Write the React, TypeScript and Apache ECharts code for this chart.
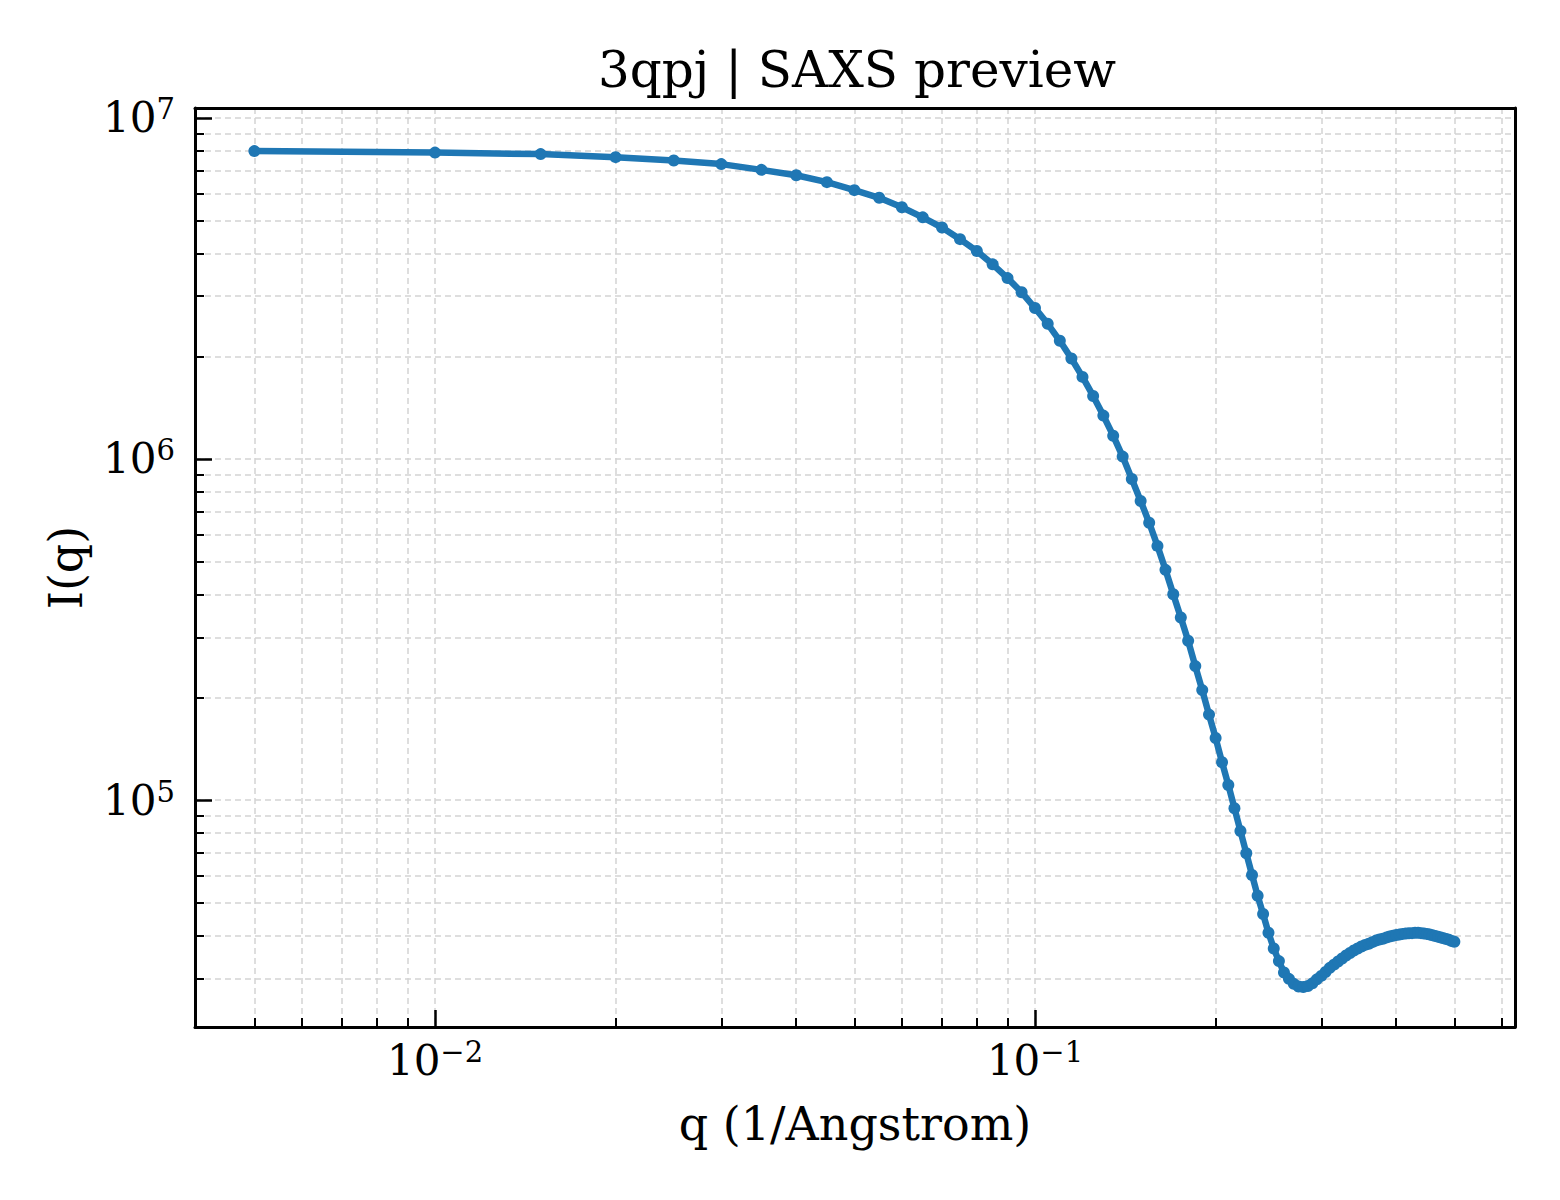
import { useEffect, useRef } from 'react'
import * as echarts from 'echarts'

// q values (1/Angstrom) and scattered intensity
const Q = [
  0.005, 0.010, 0.015, 0.020, 0.025, 0.030, 0.035, 0.040, 0.045, 0.050,
  0.055, 0.060, 0.065, 0.070, 0.075, 0.080, 0.085, 0.090, 0.095, 0.100,
  0.105, 0.110, 0.115, 0.120, 0.125, 0.130, 0.135, 0.140, 0.145, 0.150,
  0.155, 0.160, 0.165, 0.170, 0.175, 0.180, 0.185, 0.190, 0.195, 0.200,
  0.205, 0.210, 0.215, 0.220, 0.225, 0.230, 0.235, 0.240, 0.245, 0.250,
  0.255, 0.260, 0.265, 0.270, 0.275, 0.280, 0.285, 0.290, 0.295, 0.300,
  0.305, 0.310, 0.315, 0.320, 0.325, 0.330, 0.335, 0.340, 0.345, 0.350,
  0.355, 0.360, 0.365, 0.370, 0.375, 0.380, 0.385, 0.390, 0.395, 0.400,
  0.405, 0.410, 0.415, 0.420, 0.425, 0.430, 0.435, 0.440, 0.445, 0.450,
  0.455, 0.460, 0.465, 0.470, 0.475, 0.480, 0.485, 0.490, 0.495, 0.500
]

const INTENSITY = [
  7.99e6, 7.91e6, 7.83e6, 7.67e6, 7.50e6, 7.32e6, 7.04e6, 6.79e6, 6.48e6, 6.14e6,
  5.83e6, 5.47e6, 5.11e6, 4.77e6, 4.41e6, 4.07e6, 3.72e6, 3.39e6, 3.08e6, 2.77e6,
  2.49e6, 2.22e6, 1.97e6, 1.74e6, 1.53e6, 1.34e6, 1.17e6, 1.016e6, 8.73e5, 7.53e5,
  6.50e5, 5.56e5, 4.73e5, 4.01e5, 3.43e5, 2.93e5, 2.47e5, 2.10e5, 1.78e5, 1.52e5,
  1.29e5, 1.107e5, 9.46e4, 8.11e4, 6.98e4, 6.03e4, 5.24e4, 4.63e4, 4.08e4, 3.67e4,
  3.37e4, 3.12e4, 2.99e4, 2.89e4, 2.84e4, 2.83e4, 2.85e4, 2.90e4, 2.98e4, 3.05e4,
  3.13e4, 3.22e4, 3.29e4, 3.36e4, 3.43e4, 3.50e4, 3.56e4, 3.62e4, 3.67e4, 3.72e4,
  3.76e4, 3.79e4, 3.83e4, 3.87e4, 3.90e4, 3.92e4, 3.95e4, 3.98e4, 4.00e4, 4.02e4,
  4.03e4, 4.05e4, 4.06e4, 4.065e4, 4.07e4, 4.08e4, 4.08e4, 4.07e4, 4.06e4, 4.05e4,
  4.03e4, 4.01e4, 3.99e4, 3.97e4, 3.95e4, 3.93e4, 3.91e4, 3.89e4, 3.86e4, 3.84e4
]

const X_MAJOR_TICKS = [0.01, 0.1]
const X_MINOR_TICKS = [
  0.004, 0.005, 0.006, 0.007, 0.008, 0.009,
  0.02, 0.03, 0.04, 0.05, 0.06, 0.07, 0.08, 0.09,
  0.2, 0.3, 0.4, 0.5, 0.6
]
const Y_MAJOR_TICKS = [1e5, 1e6, 1e7]
const Y_MINOR_TICKS = [
  3e4, 4e4, 5e4, 6e4, 7e4, 8e4, 9e4,
  2e5, 3e5, 4e5, 5e5, 6e5, 7e5, 8e5, 9e5,
  2e6, 3e6, 4e6, 5e6, 6e6, 7e6, 8e6, 9e6
]

const X_MIN = 0.003981
const X_MAX = 0.631
const Y_MIN = 21600
const Y_MAX = 1.069e7

const FONT = 'DejaVu Serif'
const LINE_COLOR = '#1f77b4'
const GRID_LINE = { show: true, lineStyle: { color: '#d3d3d3', width: 1.5, type: [6, 4] as number[] } }

function powerLabel(value: number): string {
  const e = Math.log10(value)
  const k = Math.round(e)
  if (Math.abs(e - k) > 1e-6) return ''
  return `{b|10}{s|${k < 0 ? '\u2212' : ''}${Math.abs(k)}}`
}

const labelRich = {
  b: { fontFamily: FONT, fontSize: 42, lineHeight: 46, color: '#000' },
  s: { fontFamily: FONT, fontSize: 29, lineHeight: 29, verticalAlign: 'top' as const, color: '#000' }
}

export default function App() {
  const ref = useRef<HTMLDivElement>(null)

  useEffect(() => {
    if (!ref.current) return
    document.body.style.margin = '0'
    const chart = echarts.init(ref.current, null, { renderer: 'svg' })

    const majorTick = { show: true, inside: true, length: 17, lineStyle: { color: '#000', width: 2.5 } }
    const minorTick = { show: true, inside: true, length: 9, lineStyle: { color: '#000', width: 2 } }
    const nameStyle = { fontFamily: FONT, fontSize: 46, color: '#000' }
    // plain frame on all four sides, drawn above the dashed grid
    const frameLine = { show: true, lineStyle: { color: '#000', width: 3 } }

    const option: echarts.EChartsOption = {
      animation: false,
      backgroundColor: '#fff',
      title: {
        text: '3qpj | SAXS preview',
        left: 852,
        top: 40,
        textAlign: 'center',
        textStyle: { fontFamily: FONT, fontSize: 50, fontWeight: 'normal', color: '#000' }
      },
      grid: {
        left: 195,
        right: 45,
        top: 108,
        bottom: 173,
        show: false
      },
      xAxis: [
        {
          type: 'log',
          logBase: 10,
          min: X_MIN,
          max: X_MAX,
          position: 'bottom',
          axisLine: { show: false },
          axisTick: { ...majorTick, customValues: X_MAJOR_TICKS },
          axisLabel: { margin: 10, customValues: X_MAJOR_TICKS, formatter: powerLabel, rich: labelRich },
          splitLine: GRID_LINE,
          name: 'q (1/Angstrom)',
          nameLocation: 'middle',
          nameGap: 74,
          nameTextStyle: nameStyle
        },
        {
          type: 'log',
          logBase: 10,
          min: X_MIN,
          max: X_MAX,
          position: 'bottom',
          axisLine: { show: false },
          axisTick: { ...minorTick, customValues: X_MINOR_TICKS },
          axisLabel: { show: false },
          splitLine: GRID_LINE
        },
        {
          type: 'log',
          logBase: 10,
          min: X_MIN,
          max: X_MAX,
          position: 'bottom',
          z: 10,
          axisLine: frameLine,
          axisTick: { show: false },
          axisLabel: { show: false },
          splitLine: { show: false }
        },
        {
          type: 'log',
          logBase: 10,
          min: X_MIN,
          max: X_MAX,
          position: 'top',
          z: 10,
          axisLine: frameLine,
          axisTick: { show: false },
          axisLabel: { show: false },
          splitLine: { show: false }
        }
      ],
      yAxis: [
        {
          type: 'log',
          logBase: 10,
          min: Y_MIN,
          max: Y_MAX,
          position: 'left',
          axisLine: { show: false },
          axisTick: { ...majorTick, customValues: Y_MAJOR_TICKS },
          axisLabel: { margin: 20, customValues: Y_MAJOR_TICKS, formatter: powerLabel, rich: labelRich },
          splitLine: GRID_LINE,
          name: 'I(q)',
          nameLocation: 'middle',
          nameGap: 106,
          nameTextStyle: nameStyle
        },
        {
          type: 'log',
          logBase: 10,
          min: Y_MIN,
          max: Y_MAX,
          position: 'left',
          axisLine: { show: false },
          axisTick: { ...minorTick, customValues: Y_MINOR_TICKS },
          axisLabel: { show: false },
          splitLine: GRID_LINE
        },
        {
          type: 'log',
          logBase: 10,
          min: Y_MIN,
          max: Y_MAX,
          position: 'left',
          z: 10,
          axisLine: frameLine,
          axisTick: { show: false },
          axisLabel: { show: false },
          splitLine: { show: false }
        },
        {
          type: 'log',
          logBase: 10,
          min: Y_MIN,
          max: Y_MAX,
          position: 'right',
          z: 10,
          axisLine: frameLine,
          axisTick: { show: false },
          axisLabel: { show: false },
          splitLine: { show: false }
        }
      ],
      series: [
        {
          type: 'line',
          xAxisIndex: 0,
          yAxisIndex: 0,
          data: Q.map((q, i) => [q, INTENSITY[i]]),
          symbol: 'circle',
          symbolSize: 12,
          showSymbol: true,
          lineStyle: { color: LINE_COLOR, width: 6.5 },
          itemStyle: { color: LINE_COLOR },
          z: 5
        }
      ]
    }

    chart.setOption(option)
    return () => chart.dispose()
  }, [])

  return (
    <div
      ref={ref}
      style={{ position: 'absolute', left: 0, top: 0, width: 1560, height: 1200 }}
    />
  )
}
